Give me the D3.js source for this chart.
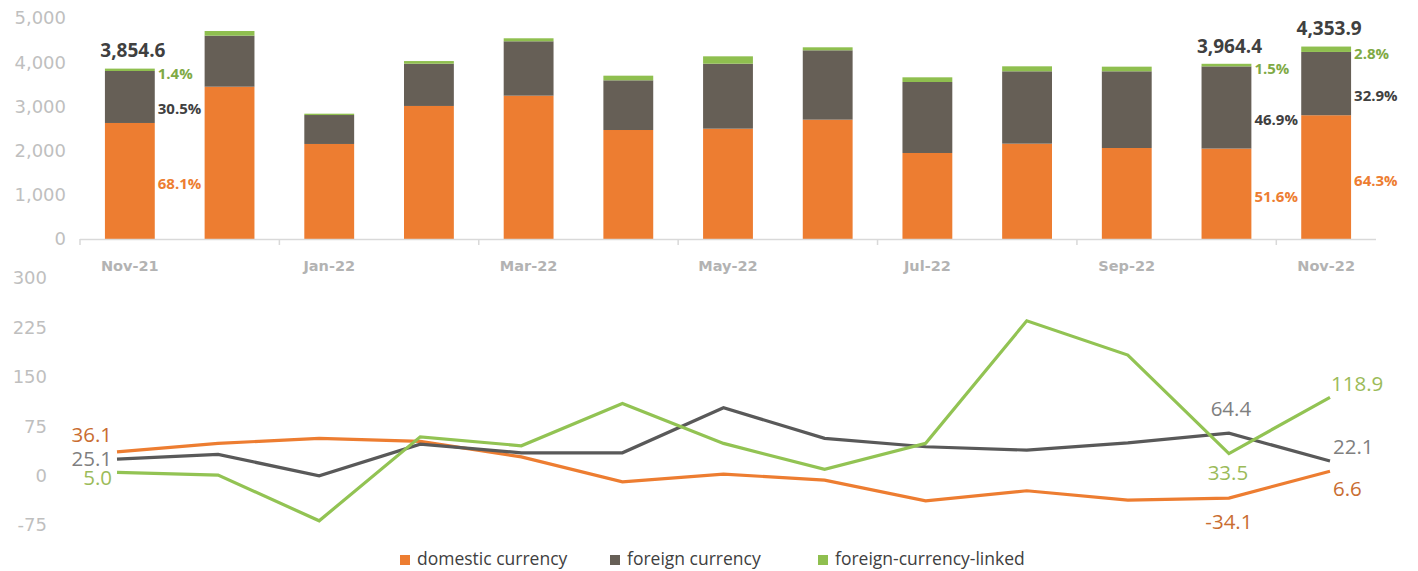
<!DOCTYPE html>
<html>
<head>
<meta charset="utf-8">
<script src="https://cdn.jsdelivr.net/npm/d3@7"></script>
<style>
  html, body { margin: 0; padding: 0; background: #ffffff; }
  svg { display: block; }
</style>
</head>
<body>
<svg id="chart" width="1418" height="571"></svg>
<script>
// ---------- DATA ----------
const months = ["Nov-21","Dec-21","Jan-22","Feb-22","Mar-22","Apr-22","May-22","Jun-22","Jul-22","Aug-22","Sep-22","Oct-22","Nov-22"];
const xTickLabels = ["Nov-21","Jan-22","Mar-22","May-22","Jul-22","Sep-22","Nov-22"];

// stock (top chart, stacked bars)
const stockDomestic = [2625, 3446, 2150, 3010, 3243, 2466, 2496, 2700, 1946, 2157, 2059, 2046, 2800];
const stockForeign  = [1176, 1154,  655,  956, 1230, 1124, 1470, 1569, 1606, 1637, 1735, 1859, 1432];
const stockLinked   = [  54,  106,   30,   60,   68,  105,  167,   68,  106,  113,  105,   59,  122];
const stockTotals   = {0: "3,854.6", 11: "3,964.4", 12: "4,353.9"};
const stockShares   = {
  0:  ["68.1%", "30.5%", "1.4%"],
  11: ["51.6%", "46.9%", "1.5%"],
  12: ["64.3%", "32.9%", "2.8%"]
};
const topTicks = [0, 1000, 2000, 3000, 4000, 5000];

// flows (bottom chart, lines)
const flowDomestic = [36.1, 48.9, 56.5, 52.0, 28.5, -9.4, 2.3, -6.8, -38.2, -23.0, -37.2, -34.1, 6.6];
const flowForeign  = [25.1, 32.2, -0.3, 47.8, 34.6, 34.6, 103.0, 56.5, 43.8, 38.7, 49.8, 64.4, 22.1];
const flowLinked   = [5.0, 0.8, -68.6, 58.9, 45.3, 109.6, 48.9, 9.4, 48.9, 235.0, 183.0, 33.5, 118.9];
const bottomTicks  = [-75, 0, 75, 150, 225, 300];

const seriesNames = ["domestic currency", "foreign currency", "foreign-currency-linked"];

// ---------- STYLE ----------
const barColors   = ["#ed7d31", "#665f56", "#8fbf4f"];
const lineColors  = ["#ed7d31", "#595959", "#92c353"];
const labelColorsTop = ["#ed7d31", "#404040", "#7faa45"];
const labelColorsBottom = ["#c96d31", "#7f7f7f", "#9bbb59"];

const svg = d3.select("#chart");

// ---------- TOP CHART ----------
const x = d3.scaleBand().domain(months).range([80, 1376]).paddingInner(0.5).paddingOuter(0.25);
const y = d3.scaleLinear().domain([0, 5000]).range([239, 18]);

const stackData = months.map((m, i) => ({month: m, d: stockDomestic[i], f: stockForeign[i], l: stockLinked[i]}));
const stack = d3.stack().keys(["d", "f", "l"])(stackData);

const gBars = svg.append("g");
stack.forEach((layer, k) => {
  gBars.selectAll(null).data(layer).enter().append("rect")
    .attr("x", d => x(d.data.month))
    .attr("width", x.bandwidth())
    .attr("y", d => y(d[1]))
    .attr("height", d => y(d[0]) - y(d[1]))
    .attr("fill", barColors[k]);
});

// axis line + ticks
svg.append("line").attr("x1", 80).attr("x2", 1376).attr("y1", y(0) + 0.5).attr("y2", y(0) + 0.5)
  .attr("stroke", "#d9d9d9").attr("stroke-width", 1.5);
const step = x.step();
d3.range(0, 13, 2).forEach(i => {
  const xx = 80 + i * step;
  svg.append("line").attr("x1", xx).attr("x2", xx).attr("y1", y(0)).attr("y2", y(0) + 6)
    .attr("stroke", "#d9d9d9").attr("stroke-width", 1.5);
});

// y tick labels
svg.append("g").selectAll("text").data(topTicks).enter().append("text")
  .attr("x", 66).attr("y", d => y(d)).attr("dy", "0.36em")
  .attr("text-anchor", "end")
  .attr("font-family", "DejaVu Sans, sans-serif").attr("font-size", 18)
  .attr("fill", "#bfbfbf")
  .text(d => d3.format(",")(d));

// x tick labels
svg.append("g").selectAll("text").data(xTickLabels).enter().append("text")
  .attr("x", d => x(d) + x.bandwidth() / 2).attr("y", 266).attr("dy", "0.36em")
  .attr("text-anchor", "middle")
  .attr("font-family", "DejaVu Sans, sans-serif").attr("font-weight", "bold").attr("font-size", 14.5)
  .attr("fill", "#b3b3b3")
  .text(d => d);

// total labels
Object.keys(stockTotals).forEach(k => {
  const i = +k;
  const top = y(stockDomestic[i] + stockForeign[i] + stockLinked[i]);
  svg.append("text")
    .attr("x", x(months[i]) + x.bandwidth() / 2 + 3).attr("y", top - 18).attr("dy", "0.36em")
    .attr("text-anchor", "middle")
    .attr("font-family", "Open Sans, sans-serif").attr("font-weight", "bold").attr("font-size", 19)
    .attr("fill", "#404040")
    .text(stockTotals[k]);
});

// share labels
Object.keys(stockShares).forEach(k => {
  const i = +k;
  const xr = x(months[i]) + x.bandwidth();
  const d0 = stockDomestic[i], f0 = stockForeign[i], l0 = stockLinked[i];
  const mids = [
    (y(0) + y(d0)) / 2 + 3,
    (y(d0) + y(d0 + f0)) / 2 + 12,
    (y(d0 + f0) + y(d0 + f0 + l0)) / 2 + 4
  ];
  stockShares[k].forEach((t, j) => {
    svg.append("text")
      .attr("x", xr + 3).attr("y", mids[j]).attr("dy", "0.36em")
      .attr("font-family", "Open Sans, sans-serif").attr("font-weight", "bold").attr("font-size", 15)
      .attr("fill", labelColorsTop[j])
      .text(t);
  });
});

// ---------- BOTTOM CHART ----------
const x2 = d3.scalePoint().domain(months).range([117, 1330]);
const y2 = d3.scaleLinear().domain([-75, 300]).range([525, 278]);

svg.append("g").selectAll("text").data(bottomTicks).enter().append("text")
  .attr("x", 47).attr("y", d => y2(d)).attr("dy", "0.36em")
  .attr("text-anchor", "end")
  .attr("font-family", "DejaVu Sans, sans-serif").attr("font-size", 18)
  .attr("fill", "#bfbfbf")
  .text(d => d);

const flows = [flowDomestic, flowForeign, flowLinked];
const line = d3.line().x((d, i) => x2(months[i])).y(d => y2(d));
[0, 1, 2].forEach(k => {
  svg.append("path").datum(flows[k])
    .attr("d", line)
    .attr("fill", "none")
    .attr("stroke", lineColors[k])
    .attr("stroke-width", 3.2)
    .attr("stroke-linejoin", "miter");
});

// line labels: [series, index, anchor, dx, dy]
const lineLabelSpec = [
  [0, 0, "end", -5, -17], [1, 0, "end", -5, 0], [2, 0, "end", -5, 5],
  [1, 11, "middle", 2, -25], [2, 11, "middle", -1, 19], [0, 11, "middle", 0, 24],
  [2, 12, "start", 1, -14], [1, 12, "start", 3, -14], [0, 12, "start", 3, 17]
];
const fmt1 = v => d3.format(".1f")(v).replace("\u2212", "-");
lineLabelSpec.forEach(([k, i, anchor, dx, dy]) => {
  svg.append("text")
    .attr("x", x2(months[i]) + dx).attr("y", y2(flows[k][i]) + dy).attr("dy", "0.36em")
    .attr("text-anchor", anchor)
    .attr("font-family", "Open Sans, sans-serif").attr("font-size", 20.5)
    .attr("fill", labelColorsBottom[k])
    .text(fmt1(flows[k][i]));
});

// ---------- LEGEND ----------
const legendX = [400, 610, 818];
seriesNames.forEach((name, k) => {
  svg.append("rect").attr("x", legendX[k]).attr("y", 555).attr("width", 10).attr("height", 10)
    .attr("fill", barColors[k]);
  svg.append("text").attr("x", legendX[k] + 17).attr("y", 559).attr("dy", "0.36em")
    .attr("font-family", "Open Sans, sans-serif").attr("font-size", 17.5)
    .attr("fill", "#404040")
    .text(name);
});
</script>
</body>
</html>
